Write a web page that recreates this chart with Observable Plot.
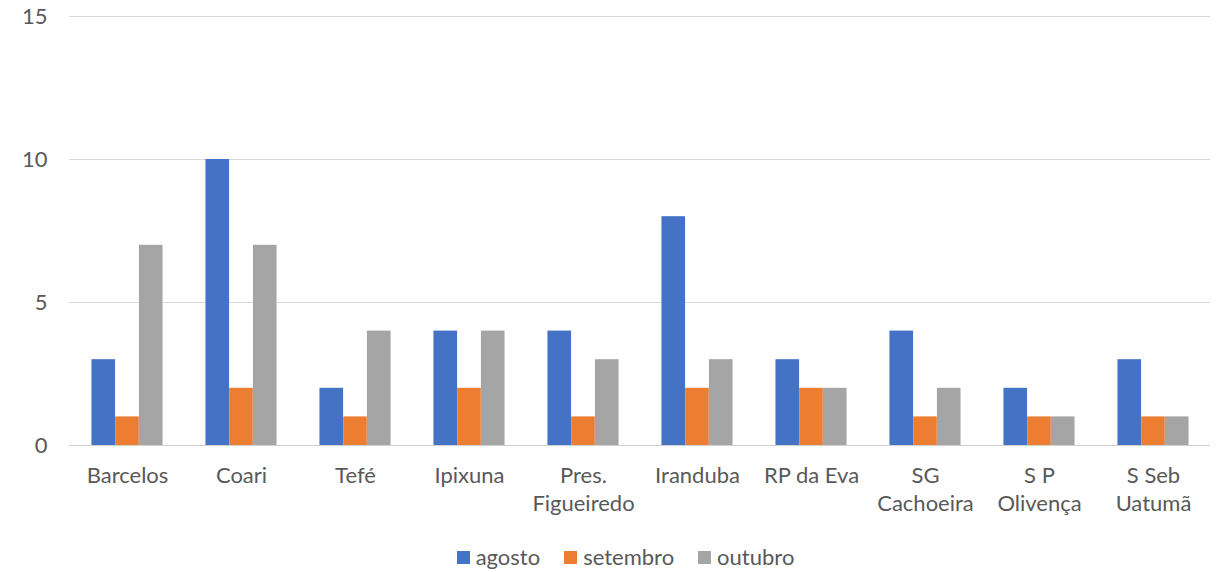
<!DOCTYPE html>
<html><head><meta charset="utf-8">
<script src="https://cdn.jsdelivr.net/npm/d3@7"></script>
<script src="https://cdn.jsdelivr.net/npm/@observablehq/plot@0.6"></script>
<style>
body{margin:0;background:#fff;font-family:Lato,"Open Sans",sans-serif;}
#wrap{position:relative;width:1225px;height:572px;}
#legend{position:absolute;left:13px;top:545px;width:1225px;display:flex;justify-content:center;gap:24px;font-size:22px;color:#595959;line-height:24px;}
#legend span.sw{display:inline-block;width:13px;height:13px;margin-right:6px;vertical-align:middle;position:relative;top:-2px;}
</style></head>
<body><div id="wrap"><div id="chart"></div><div id="legend"></div></div>
<script>
const categories = ["Barcelos","Coari","Tefé","Ipixuna","Pres.\nFigueiredo","Iranduba","RP da Eva","SG\nCachoeira","S P\nOlivença","S Seb\nUatumã"];
const series = ["agosto","setembro","outubro"];
const agosto   = [3,10,2,4,4,8,3,4,2,3];
const setembro = [1,2,1,2,1,2,2,1,1,1];
const outubro  = [7,7,4,4,3,3,2,2,1,1];
const colors = ["#4472C4","#ED7D31","#A5A5A5"];
const yTicks = [0,5,10,15];

const values = [agosto, setembro, outubro];
const W = 1225, mL = 69, mR = 15;
const bw = (W - mL - mR) / categories.length;
const barW = bw * 0.208;
const start = (bw - 3 * barW) / 2;

const marks = [
  Plot.ruleY(yTicks.filter(d => d > 0), {stroke: "#d9d9d9", strokeWidth: 1}),
  Plot.ruleY([0], {stroke: "#d0d0d0", strokeWidth: 1.2})
];
series.forEach((s, i) => {
  const data = categories.map((c, j) => ({cat: c, v: values[i][j]}));
  const il = start + i * barW;
  marks.push(Plot.barY(data, {x: "cat", y: "v", fill: colors[i], insetLeft: il, insetRight: bw - il - barW}));
});
marks.push(Plot.axisX({tickSize: 0, tickPadding: 18, fontSize: 22, fill: "#595959", lineHeight: 1.27, label: null}));
marks.push(Plot.axisY(yTicks, {tickSize: 0, tickPadding: 22, fontSize: 22, fill: "#595959", label: null}));

const chart = Plot.plot({
  width: W, height: 530,
  marginLeft: mL, marginRight: mR, marginTop: 16, marginBottom: 85,
  style: {fontFamily: "Lato, 'Open Sans', sans-serif", color: "#595959", background: "#fff"},
  x: {domain: categories, padding: 0, label: null},
  y: {domain: [0, 15], label: null},
  marks
});
document.getElementById("chart").appendChild(chart);

const leg = document.getElementById("legend");
series.forEach((s, i) => {
  const it = document.createElement("div");
  it.innerHTML = `<span class="sw" style="background:${colors[i]}"></span>${s}`;
  leg.appendChild(it);
});
</script></body></html>
